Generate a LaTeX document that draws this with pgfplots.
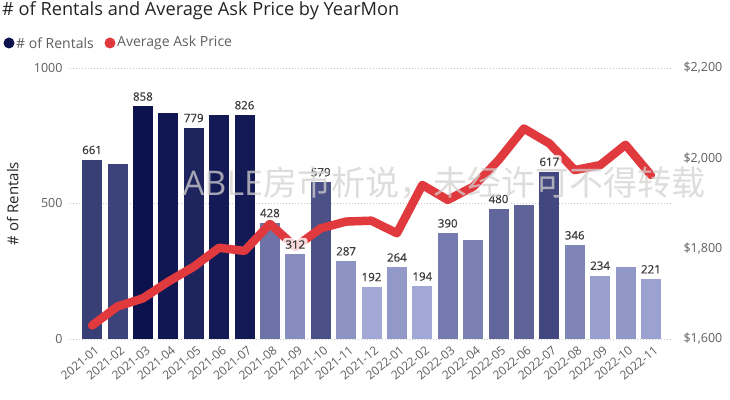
\documentclass[border=0pt]{standalone}
\usepackage{fontspec}
\setmainfont{Open Sans}
\newfontfamily\cjk{Noto Sans CJK SC}
\newfontfamily\labfont[FakeBold=0.6]{Open Sans}
\usepackage{pgfplots}
\pgfplotsset{compat=1.18}
\definecolor{darkB}{HTML}{0C124E}
\definecolor{lightB}{HTML}{A2A8D6}
\definecolor{lineR}{HTML}{E0393E}
\definecolor{tickG}{HTML}{605E5C}
\definecolor{gridG}{HTML}{C8C6C4}
\definecolor{titleG}{HTML}{252423}
\definecolor{labG}{HTML}{3A3A3A}
\begin{document}
\begin{tikzpicture}[x=1pt,y=1pt]
\path (0,0) rectangle (730,399);
\pgfplotsset{
  base/.style={scale only axis, width=602pt, height=271pt, at={(70pt,60pt)}, anchor=south west,
    xmin=-0.87, xmax=22.83, axis line style={draw=none}, major tick length=0pt,
    tick label style={font=\fontsize{12.5}{14}\selectfont, text=tickG},
    /pgf/number format/assume math mode=true, clip=false},
  mybar/.style={ybar, bar width=20pt, bar shift=0pt, draw=none, fill=darkB!#1!lightB},
}
\begin{axis}[base, ymin=0, ymax=1000, ytick={0,500,1000}, yticklabels={0,500,1000},
  yticklabel style={xshift=-4pt},
  ymajorgrids, grid style={gridG, dash pattern=on 1pt off 2pt},
  xtick={0,...,22},
  xticklabels={2021-01,2021-02,2021-03,2021-04,2021-05,2021-06,2021-07,2021-08,2021-09,2021-10,2021-11,2021-12,2022-01,2022-02,2022-03,2022-04,2022-05,2022-06,2022-07,2022-08,2022-09,2022-10,2022-11},
  xticklabel style={rotate=40, anchor=north east, xshift=-2pt, yshift=-6pt, inner sep=0pt, font=\fontsize{12}{13}\selectfont},
  ylabel={\# of Rentals}, ylabel style={at={(axis description cs:-0.095,0.5)}, anchor=center, font=\fontsize{15}{17}\selectfont, text=titleG}]
\addplot[mybar=70.4] coordinates {(0,661)};
\addplot[mybar=68.0] coordinates {(1,645)};
\addplot[mybar=100] coordinates {(2,858)};
\addplot[mybar=96.5] coordinates {(3,835)};
\addplot[mybar=88.1] coordinates {(4,779)};
\addplot[mybar=95.0] coordinates {(5,825)};
\addplot[mybar=95.2] coordinates {(6,826)};
\addplot[mybar=35.4] coordinates {(7,428)};
\addplot[mybar=18.0] coordinates {(8,312)};
\addplot[mybar=58.1] coordinates {(9,579)};
\addplot[mybar=14.3] coordinates {(10,287)};
\addplot[mybar=0] coordinates {(11,192)};
\addplot[mybar=10.8] coordinates {(12,264)};
\addplot[mybar=0.3] coordinates {(13,194)};
\addplot[mybar=29.7] coordinates {(14,390)};
\addplot[mybar=26.0] coordinates {(15,365)};
\addplot[mybar=43.2] coordinates {(16,480)};
\addplot[mybar=45.3] coordinates {(17,494)};
\addplot[mybar=63.8] coordinates {(18,617)};
\addplot[mybar=23.1] coordinates {(19,346)};
\addplot[mybar=6.3] coordinates {(20,234)};
\addplot[mybar=11.1] coordinates {(21,266)};
\addplot[mybar=4.4] coordinates {(22,221)};
\end{axis}
\begin{axis}[base, ymin=1600, ymax=2200, axis y line*=right, axis x line=none,
  ytick={1600,1800,2000,2200}, yticklabels={{\$1,600},{\$1,800},{\$2,000},{\$2,200}},
  yticklabel style={xshift=8pt}]
\addplot[lineR, line width=8.5pt, line join=round, line cap=round] coordinates {
(0,1630) (1,1672) (2,1690) (3,1727) (4,1760) (5,1802) (6,1795) (7,1855) (8,1804) (9,1845)
(10,1860) (11,1862) (12,1834) (13,1941) (14,1908) (15,1937) (16,1996) (17,2066) (18,2033)
(19,1974) (20,1985) (21,2030) (22,1963)};
\end{axis}
\begin{axis}[base, hide axis, ymin=0, ymax=1000]
\addplot[draw=none, mark=none, nodes near coords, point meta=y,
  nodes near coords style={anchor=south, yshift=3pt, font=\labfont\fontsize{11.5}{13}\selectfont, text=labG,
    fill=white, fill opacity=0.8, text opacity=1, rounded corners=3pt, inner sep=2.5pt}]
coordinates {(0,661) (2,858) (4,779) (6,826) (7,428) (8,312) (9,579) (10,287) (11,192) (12,264)
(13,194) (14,390) (16,480) (18,617) (19,346) (20,234) (22,221)};
\end{axis}
\node[text=gridG!80!white, opacity=0.75, font=\fontsize{34}{36}\selectfont] at (444,216) {ABLE{\cjk 房市析说，未经许可不得转载}};
\node[anchor=west, font=\fontsize{18.2}{21}\selectfont, text=titleG, inner sep=0pt] at (2,388) {\# of Rentals and Average Ask Price by YearMon};
\fill[darkB] (9,356) circle (5.5);
\node[anchor=west, font=\fontsize{14}{16}\selectfont, text=tickG, inner sep=0pt] at (16,356) {\# of Rentals};
\fill[lineR] (110,356) circle (5.5);
\node[anchor=west, font=\fontsize{14}{16}\selectfont, text=tickG, inner sep=0pt] at (117,356) {Average Ask Price};
\end{tikzpicture}
\end{document}
